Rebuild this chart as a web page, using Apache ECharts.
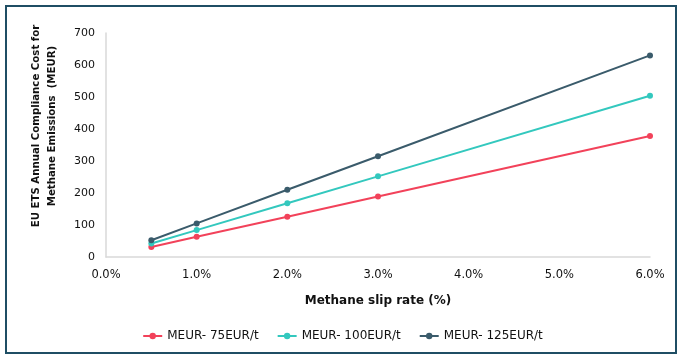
<!DOCTYPE html>
<html><head><meta charset="utf-8">
<script src="https://cdn.jsdelivr.net/npm/echarts@6/dist/echarts.min.js"></script>
<style>html,body{margin:0;padding:0;background:#fff}#c{width:685px;height:360px}</style>
</head><body><div id="c"></div>
<script>
const slipRates = [0.5, 1, 2, 3, 6];
const seriesNames = ['MEUR- 75EUR/t', 'MEUR- 100EUR/t', 'MEUR- 125EUR/t'];
const cost75 = [31.5, 63, 126, 189, 378];
const cost100 = [42, 84, 168, 252, 504];
const cost125 = [52.5, 105, 210, 315, 630];
const colors = ['#F2425A', '#33C8BE', '#3A5B6B'];
const allValues = [cost75, cost100, cost125];
const yTitle = 'EU ETS Annual Compliance Cost for\nMethane Emissions  (MEUR)';
const xTitle = 'Methane slip rate (%)';

const chart = echarts.init(document.getElementById('c'));
const font = 'DejaVu Sans';
chart.setOption({
  animation: false,
  textStyle: {fontFamily: font},
  graphic: [
    {type: 'rect', shape: {x: 6, y: 6, width: 670, height: 347}, style: {fill: 'none', stroke: '#1F4E64', lineWidth: 2}},
    {type: 'text', x: 44, y: 126, rotation: Math.PI / 2,
     style: {text: yTitle, align: 'center', verticalAlign: 'middle', fontFamily: font, fontWeight: 'bold', fontSize: 10.2, lineHeight: 16, fill: '#111'}}
  ],
  grid: {left: 106, right: 35, top: 33, bottom: 103},
  legend: {
    bottom: 13, left: 'center', itemGap: 18, itemWidth: 19, itemHeight: 8,
    textStyle: {fontFamily: font, fontSize: 12, color: '#111'},
    data: seriesNames
  },
  xAxis: {
    type: 'value', min: 0, max: 6, interval: 1,
    name: xTitle, nameLocation: 'middle', nameGap: 38,
    nameTextStyle: {fontFamily: font, fontWeight: 'bold', fontSize: 12, color: '#111'},
    axisLine: {lineStyle: {color: '#D9D9D9', width: 1.5}},
    axisTick: {show: false}, splitLine: {show: false},
    axisLabel: {formatter: v => v.toFixed(1) + '%', fontFamily: font, fontSize: 11.5, color: '#111', margin: 12}
  },
  yAxis: {
    type: 'value', min: 0, max: 700, interval: 100,
    axisLine: {show: true, lineStyle: {color: '#D9D9D9', width: 1.5}},
    axisTick: {show: false}, splitLine: {show: false},
    axisLabel: {fontFamily: font, fontSize: 11, color: '#111', margin: 11}
  },
  series: seriesNames.map((n, i) => ({
    name: n, type: 'line', symbol: 'circle', symbolSize: 6,
    data: slipRates.map((x, j) => [x, allValues[i][j]]),
    lineStyle: {color: colors[i], width: 2}, itemStyle: {color: colors[i]}
  }))
});
</script></body></html>
